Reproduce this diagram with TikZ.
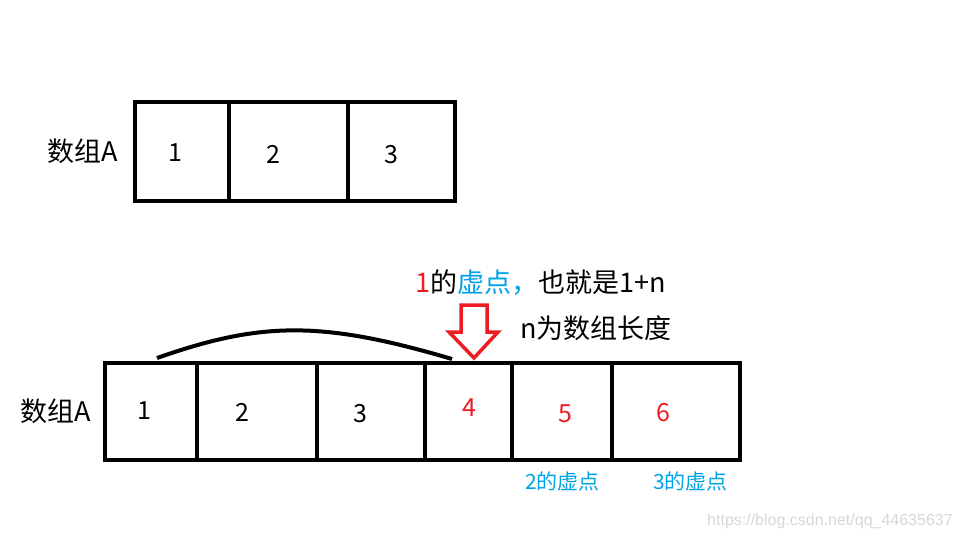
\documentclass[tikz,border=0pt]{standalone}
\usepackage{fontspec}
\setmainfont{Noto Sans CJK SC}
\newfontfamily\wmfont{Liberation Sans}
\definecolor{pred}{RGB}{237,28,36}
\definecolor{pblue}{RGB}{0,162,232}
\definecolor{wm}{RGB}{215,215,215}
\begin{document}
\begin{tikzpicture}[x=1pt,y=-1pt,
  cell/.style={draw=black,line width=4pt,inner sep=0pt,outer sep=0pt,anchor=north west},
  num/.style={font=\fontsize{25}{25}\selectfont,inner sep=0pt},
  lbl/.style={font=\fontsize{27}{27}\selectfont,inner sep=0pt},
  note/.style={font=\fontsize{21}{21}\selectfont,inner sep=0pt,text=pblue},
  thickline/.style={line width=4pt}]
\useasboundingbox (0,0) rectangle (960,540);
% top array
\node[cell,minimum width=94pt,minimum height=99pt] (t1) at (135,102) {};
\node[cell,minimum width=119pt,minimum height=99pt] (t2) at (229,102) {};
\node[cell,minimum width=107pt,minimum height=99pt] (t3) at (348,102) {};
\node[num] (t1l) at (175,153) {1};
\node[num] (t2l) at (273,154) {2};
\node[num] (t3l) at (391,155) {3};
\node[lbl] (tA) at (83,151) {数组A};
% bottom array
\node[cell,minimum width=92pt,minimum height=97pt] (b1) at (105,363) {};
\node[cell,minimum width=120pt,minimum height=97pt] (b2) at (197,363) {};
\node[cell,minimum width=108pt,minimum height=97pt] (b3) at (317,363) {};
\node[cell,minimum width=87pt,minimum height=97pt] (b4) at (425,363) {};
\node[cell,minimum width=100pt,minimum height=97pt] (b5) at (512,363) {};
\node[cell,minimum width=128pt,minimum height=97pt] (b6) at (612,363) {};
\node[num] (b1l) at (144,411) {1};
\node[num] (b2l) at (242,412) {2};
\node[num] (b3l) at (360,414) {3};
\node[num,text=pred] (b4l) at (469,408) {4};
\node[num,text=pred] (b5l) at (565,414) {5};
\node[num,text=pred] (b6l) at (663,413) {6};
\node[lbl] (bA) at (56,411) {数组A};
% arc
\coordinate (arcS) at (157,358);
\coordinate (arcE) at (452,359);
\draw[thickline] (arcS) .. controls (260,322) and (320,320) .. (arcE);
% red hollow arrow
\draw[pred,line width=3.5pt,line join=miter] (461,305) -- (487,305) -- (487,332) -- (498,332) -- (474,358) -- (449,332) -- (461,332) -- cycle;
% annotations
\node[lbl,anchor=west] (ann1) at (415,283) {\textcolor{pred}{1}的\textcolor{pblue}{虚点，}也就是1+n};
\node[lbl,anchor=west] (ann2) at (520,328) {n为数组长度};
\node[note,anchor=west] (n2) at (525,481) {2的虚点};
\node[note,anchor=west] (n3) at (653,481) {3的虚点};
\node[font=\wmfont\fontsize{16}{16}\selectfont,text=wm,anchor=west,inner sep=0pt] (wmk) at (707,521) {https://blog.csdn.net/qq\_44635637};
\end{tikzpicture}
\end{document}
